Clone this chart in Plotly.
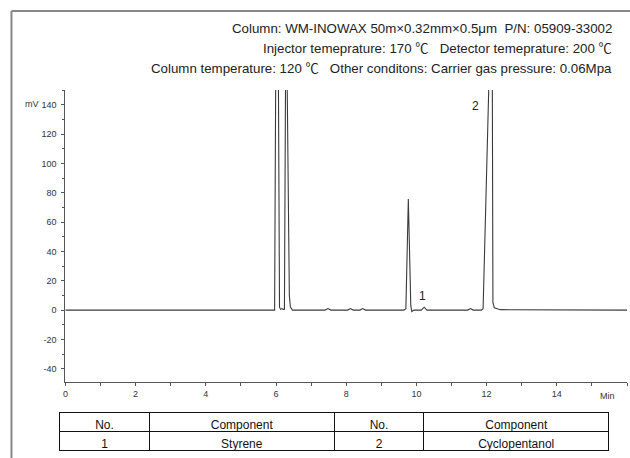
import plotly.graph_objects as go

# Chromatogram trace: retention time (min) and detector signal (mV)
time_min = [0.0, 5.96, 5.99, 6.03, 6.07, 6.10, 6.13, 6.17, 6.21,
            6.24, 6.27, 6.30, 6.32, 6.38, 6.41, 6.47,
            7.40, 7.48, 7.56, 8.04, 8.12, 8.20, 8.39, 8.47, 8.55,
            9.64, 9.70, 9.77, 9.84, 9.87, 9.93,
            10.14, 10.22, 10.30, 11.46, 11.54, 11.62,
            11.85, 11.90, 12.06, 12.11, 12.17, 12.18, 12.22, 12.39, 16.0]
signal_mv = [0.0, 0.0, 150, 380, 150, 2.0, 0.5, 1.0, 0.5,
             0.5, 150, 420, 150, 10, 2.0, 0.0,
             0.0, 1.0, 0.0, 0.0, 1.0, 0.0, 0.0, 1.0, 0.0,
             0.0, 1.0, 75.7, 3.0, -1.0, 0.0,
             0.0, 2.0, 0.0, 0.0, 1.0, 0.0,
             0.0, 1.0, 150, 600, 150, 5.0, 1.5, 0.3, 0.0]

# Peak labels
peak_ids = ["1", "2"]
peak_label_t = [10.17, 11.68]
peak_label_v = [9.8, 139]

# Axis ticks
x_ticks = [0, 2, 4, 6, 8, 10, 12, 14]
y_ticks = [-40, -20, 0, 20, 40, 60, 80, 100, 120, 140]
y_tick_text = ["-40", "-20", "0", "20", "40", "60", "80", "100", "120", "140"]

# Method conditions
header_lines = [
    "Column: WM-INOWAX 50m×0.32mm×0.5μm  P/N: 05909-33002",
    "Injector temeprature: 170 ℃   Detector temeprature: 200 ℃",
    "Column temperature: 120 ℃   Other conditons: Carrier gas pressure: 0.06Mpa",
]

# Component table
table_header = ["No.", "Component", "No.", "Component"]
table_no_a = ["1"]
table_comp_a = ["Styrene"]
table_no_b = ["2"]
table_comp_b = ["Cyclopentanol"]

W, H = 630, 458
FONT = "Arial, Liberation Sans, Noto Sans CJK SC, sans-serif"


def px(x):
    return x / W


def py(y):
    return 1 - y / H


fig = go.Figure()

fig.add_trace(go.Scatter(
    x=time_min, y=signal_mv, mode="lines",
    line=dict(color="#3a3a3a", width=1.1),
    hoverinfo="skip", showlegend=False,
))

fig.add_trace(go.Table(
    domain=dict(x=[px(57), px(609)], y=[py(452), py(412)]),
    columnwidth=[90, 186, 90, 186],
    header=dict(values=table_header, height=19, align="center",
                line=dict(color="#111", width=1), fill=dict(color="white"),
                font=dict(family=FONT, size=12, color="#111")),
    cells=dict(values=[table_no_a, table_comp_a, table_no_b, table_comp_b],
               height=19, align="center",
               line=dict(color="#111", width=1), fill=dict(color="white"),
               font=dict(family=FONT, size=12, color="#111")),
))

annotations = []
for pid, t, v in zip(peak_ids, peak_label_t, peak_label_v):
    annotations.append(dict(x=t, y=v, xref="x", yref="y", text=pid,
                            showarrow=False, font=dict(family=FONT, size=12, color="#222")))

for i, line in enumerate(header_lines):
    annotations.append(dict(x=px(614), y=py(28 + i * 20.5), xref="paper", yref="paper",
                            xanchor="right", yanchor="middle", text=line, showarrow=False,
                            font=dict(family=FONT, size=13.3, color="#222")))

annotations.append(dict(x=px(29), y=py(104), xref="paper", yref="paper", text="mV",
                        showarrow=False, xanchor="center", yanchor="middle",
                        font=dict(family=FONT, size=9, color="#333")))
annotations.append(dict(x=px(607), y=py(396), xref="paper", yref="paper", text="Min",
                        showarrow=False, xanchor="center", yanchor="middle",
                        font=dict(family=FONT, size=9, color="#333")))

# Outer frame (top and left edges)
shapes = [
    dict(type="line", xref="paper", yref="paper", x0=px(8.5), x1=1.0, y0=py(11), y1=py(11),
         line=dict(color="#888", width=2)),
    dict(type="line", xref="paper", yref="paper", x0=px(8.5), x1=px(8.5), y0=py(11), y1=0,
         line=dict(color="#888", width=2)),
]

fig.update_layout(
    width=W, height=H,
    margin=dict(l=0, r=0, t=0, b=0),
    paper_bgcolor="white", plot_bgcolor="white",
    font=dict(family=FONT, size=9, color="#333"),
    annotations=annotations, shapes=shapes,
    xaxis=dict(domain=[px(62.7), px(627)], range=[0, 16],
               tickvals=x_ticks, ticks="outside", ticklen=3, tickcolor="#555",
               minor=dict(dtick=1, ticks="outside", ticklen=3, tickcolor="#555"),
               showline=True, linecolor="#555", linewidth=1,
               showgrid=False, zeroline=False, tickfont=dict(size=9, color="#333")),
    yaxis=dict(domain=[py(382), py(90)], range=[-49, 150],
               tickvals=y_ticks, ticktext=y_tick_text,
               ticks="outside", ticklen=3, tickcolor="#555", ticklabelstandoff=3,
               minor=dict(dtick=10, ticks="outside", ticklen=2, tickcolor="#555"),
               showline=True, linecolor="#555", linewidth=1,
               showgrid=False, zeroline=False, tickfont=dict(size=9, color="#333")),
)

fig.write_html("out.html")
